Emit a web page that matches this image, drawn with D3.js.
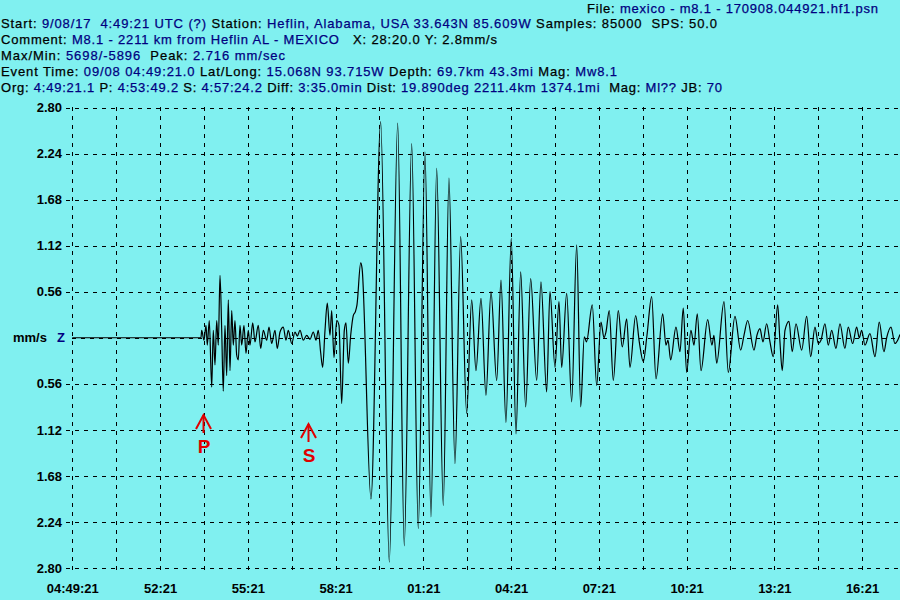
<!DOCTYPE html>
<html><head><meta charset="utf-8">
<script src="https://cdn.jsdelivr.net/npm/d3@7"></script>
<style>
html,body{margin:0;padding:0;background:#80f0f0;}
svg{display:block;}
</style></head><body>
<svg id="chart" width="900" height="600"></svg>
<script>
// ---- data (seconds after 04:49:21 UTC, velocity mm/s) ----
const times = [0,264,265.4,270.2,274.3,276.9,281.0,286.0,289.2,292.7,296.2,299.5,303.0,306.5,309.7,313.2,316.7,320.0,323.5,327.0,330.3,333.7,337.2,340.5,344.0,347.5,352.2,356.3,361.0,364.5,370.1,374.8,381.5,386.5,391.8,398.8,403.5,409.0,415.8,420.5,426.1,432.8,438.4,443.1,450.1,456.8,461.5,467.1,473.9,480.8,487.6,494.4,499.9,504.6,509.5,513.6,518.4,523.1,528.6,532.1,536.8,542.4,547.1,552.6,558.0,561.4,566.2,571.1,576.4,580.9,584.0,591.6,594.3,612.7,632.6,650.3,667.5,681.0,696.2,709.7,723.5,735.8,747.5,761.0,772.7,785.0,796.7,809.0,819.3,828.1,838.4,848.6,858.9,870.6,879.4,889.6,900.5,910.2,919.8,930.1,940.3,952.6,961.4,973.1,979.9,990.2,998.4,1003.9,1014.2,1024.4,1034.7,1042.9,1050.3,1054.8,1066.7,1075.7,1084.5,1090.7,1094.8,1101.5,1109.8,1120.0,1128.2,1137.2,1144.0,1155.7,1163.1,1171.3,1178.9,1188.5,1197.4,1211.1,1217.9,1222.0,1227.5,1238.4,1246.6,1253.3,1260.3,1269.1,1275.3,1282.1,1289.7,1303.4,1312.2,1316.3,1321.9,1336.9,1345.7,1359.4,1371.1,1377.9,1385.5,1398.4,1404.5,1410.7,1416.8,1424.4,1431.2,1438.0,1447.0,1451.7,1456.4,1462.0,1470.2,1476.9,1484.5,1496.2,1506.5,1514.7,1523.5,1530.3,1535.8,1544.0,1550.8,1557.8,1566.6,1574.8,1585.0,1591.8,1600.8,1609.0,1614.4,1619.3,1626.1,1636.3,1646.6,1655.4,1665.0,1670.6,1679.4,1687.6,1693.2,1697.9];
const amplitudes = [0,0,0.09,-0.03,0.15,-0.09,0.21,-0.60,0.09,-0.33,0.21,-0.09,0.76,0.09,-0.65,0.15,-0.46,0.46,-0.40,0.33,-0.09,0.21,-0.21,-0.27,0.15,-0.09,0.15,-0.19,0.09,-0.09,0.18,-0.05,0.15,-0.13,0.09,-0.03,0.13,-0.07,0.09,-0.13,0.07,0.13,-0.03,0.09,-0.07,0.07,0.02,0.09,-0.03,0.03,-0.02,0.07,-0.03,0.09,-0.18,-0.36,0.09,0.42,0.03,0.33,-0.24,0.21,0.15,-0.80,0.09,0.18,-0.31,0.03,0.27,0.32,0.40,0.91,0.85,-1.96,2.63,-2.73,2.61,-2.53,2.36,-2.32,2.26,-2.18,2.06,-2.04,1.94,-1.53,1.23,-0.92,0.46,-0.40,0.48,-0.70,0.56,-0.52,0.70,-1.03,1.21,-1.17,0.80,-0.84,0.72,-0.52,0.68,-0.66,0.56,-0.36,0.44,-0.36,0.54,-0.78,1.13,-0.84,0.01,-0.05,0.40,-0.58,0.19,0.00,0.07,0.33,-0.52,0.33,-0.11,0.23,-0.36,0.27,-0.05,-0.29,0.03,0.50,-0.50,0.29,-0.09,-0.03,-0.27,0.13,-0.17,0.36,-0.42,0.09,-0.09,0.29,-0.40,0.22,-0.09,0.03,-0.31,0.44,-0.42,0.26,-0.15,0.03,0.21,-0.15,0.03,0.11,-0.05,0.17,-0.05,-0.23,0.40,-0.05,-0.40,0.09,0.20,-0.17,0.17,-0.15,0.26,-0.23,0.13,-0.07,-0.03,0.17,-0.09,0.09,-0.13,0.17,-0.13,0.13,-0.07,0.13,0.00,0.09,-0.09,0.05,-0.23,0.19,-0.17,0.00,0.13,-0.07,-0.03,0.04];

const yTickValues = [2.8, 2.24, 1.68, 1.12, 0.56, 0, -0.56, -1.12, -1.68, -2.24, -2.8];
const xGridValues = [0,90,180,270,360,450,540,630,720,810,900,990,1080,1170,1260,1350,1440,1530,1620];
const xTickValues = [0,180,360,540,720,900,1080,1260,1440,1620];
const xTickLabels = ["04:49:21","52:21","55:21","58:21","01:21","04:21","07:21","10:21","13:21","16:21"];
const markerNames = ["P","S"];
const markerTimes = [268.2, 483.2];

// header segments: [isValue, text]
const headerLines = [
  [[0,"Start: "],[1,"9/08/17  4:49:21 UTC (?) "],[0,"Station: "],[1,"Heflin, Alabama, USA 33.643N 85.609W "],[0,"Samples: 85000  SPS: 50.0"]],
  [[0,"Comment: "],[1,"M8.1 - 2211 km from Heflin AL - MEXICO"],[0,"   X: 28:20.0 Y: 2.8mm/s"]],
  [[0,"Max/Min: "],[1,"5698/-5896"],[0,"  Peak: "],[1,"2.716 mm/sec"]],
  [[0,"Event Time: "],[1,"09/08 04:49:21.0 "],[0,"Lat/Long: "],[1,"15.068N 93.715W "],[0,"Depth: "],[1,"69.7km 43.3mi "],[0,"Mag: "],[1,"Mw8.1"]],
  [[0,"Org: "],[1,"4:49:21.1 "],[0,"P: "],[1,"4:53:49.2 "],[0,"S: "],[1,"4:57:24.2 "],[0,"Diff: "],[1,"3:35.0min "],[0,"Dist: "],[1,"19.890deg 2211.4km 1374.1mi  "],[0,"Mag: "],[1,"Ml?? "],[0,"JB: "],[1,"70"]]
];
const fileLine = [[0,"File: "],[1,"mexico - m8.1 - 170908.044921.hf1.psn"]];

// ---- drawing ----
const W = 900, H = 600;
const BG = "#80f0f0", NAVY = "#000080", RED = "#e00000";
const FONT = "'Liberation Sans', Arial, sans-serif";
const x = d3.scaleLinear().domain([0, 1700]).range([72.3, 901]);
const y = d3.scaleLinear().domain([-2.8, 2.8]).range([568, 107.5]);

const svg = d3.select("#chart");
svg.append("rect").attr("width", W).attr("height", H).attr("fill", BG);

// header text
const headerLayout = [{y: 28, w: 717}, {y: 44, w: 497}, {y: 60, w: 285}, {y: 76, w: 617}, {y: 92, w: 722}];
function writeLine(segs, x0, yb, w) {
  const t = svg.append("text").attr("x", x0).attr("y", yb)
    .attr("font-family", FONT).attr("font-size", 13).attr("xml:space", "preserve")
    .attr("stroke-width", 0.25)
    .style("white-space", "pre");
  segs.forEach(s => t.append("tspan").attr("fill", s[0] ? NAVY : "#000")
    .attr("stroke", s[0] ? NAVY : "#000").text(s[1]));
  if (w) t.attr("textLength", w).attr("lengthAdjust", "spacing");
}
headerLines.forEach((segs, i) => writeLine(segs, 1, headerLayout[i].y, headerLayout[i].w - 1));
writeLine(fileLine, 587, 13, 291);

// grid
const grid = svg.append("g").attr("stroke", "#000").attr("stroke-width", 1)
  .attr("stroke-dasharray", "4,5").attr("shape-rendering", "crispEdges");
grid.selectAll("line.h").data(yTickValues).join("line").attr("class", "h")
  .attr("x1", d => d === 0 ? x(0) : 66).attr("x2", 900)
  .attr("y1", d => Math.round(y(d)) + 0.5).attr("y2", d => Math.round(y(d)) + 0.5);
grid.selectAll("line.v").data(xGridValues).join("line").attr("class", "v")
  .attr("x1", d => Math.round(x(d)) + 0.5).attr("x2", d => Math.round(x(d)) + 0.5)
  .attr("y1", 107).attr("y2", 573);

// y axis labels
const yAxis = d3.axisLeft(y).tickValues(yTickValues.filter(v => v !== 0))
  .tickSize(0).tickPadding(4).tickFormat(v => Math.abs(v).toFixed(2));
const gy = svg.append("g").attr("transform", "translate(66,0)").call(yAxis);
gy.select(".domain").remove();
gy.attr("font-family", FONT).attr("font-size", 13).attr("font-weight", "bold");
gy.selectAll("text").attr("fill", "#000");

// zero label
const zl = svg.append("text").attr("x", 13).attr("y", y(0) + 4.5)
  .attr("font-family", FONT).attr("font-size", 13).attr("font-weight", "bold").attr("xml:space", "preserve");
zl.append("tspan").attr("fill", "#000").text("mm/s");
zl.append("tspan").attr("fill", NAVY).attr("x", 57).text("Z");

// x axis labels
const xAxis = d3.axisBottom(x).tickValues(xTickValues).tickSize(0).tickPadding(12)
  .tickFormat((d, i) => xTickLabels[i]);
const gx = svg.append("g").attr("transform", "translate(0,572)").call(xAxis);
gx.select(".domain").remove();
gx.attr("font-family", FONT).attr("font-size", 13).attr("font-weight", "bold");
gx.selectAll("text").attr("fill", "#000");

// waveform
const idx = d3.range(times.length);
const line = d3.line().x(i => x(times[i])).y(i => y(amplitudes[i])).curve(d3.curveMonotoneX);
svg.append("path").attr("d", line(idx)).attr("fill", "none")
  .attr("stroke", "#000").attr("stroke-width", 1.2).attr("stroke-linejoin", "miter");

// phase markers
const markerDrop = [0, 9];
markerNames.forEach((name, i) => {
  const mx = Math.round(x(markerTimes[i])) + 0.5;
  const tip = 415 + markerDrop[i];
  const g = svg.append("g").attr("stroke", RED).attr("stroke-width", 2).attr("fill", "none");
  g.append("line").attr("x1", mx).attr("x2", mx).attr("y1", tip).attr("y2", tip + 18);
  g.append("polyline").attr("points", `${mx - 7.5},${tip + 14} ${mx},${tip} ${mx + 7.5},${tip + 14}`);
  svg.append("text").attr("x", mx + 0.5).attr("y", tip + 38).attr("text-anchor", "middle")
    .attr("font-family", FONT).attr("font-size", 19).attr("font-weight", "bold")
    .attr("fill", RED).text(name);
});
</script>
</body></html>
